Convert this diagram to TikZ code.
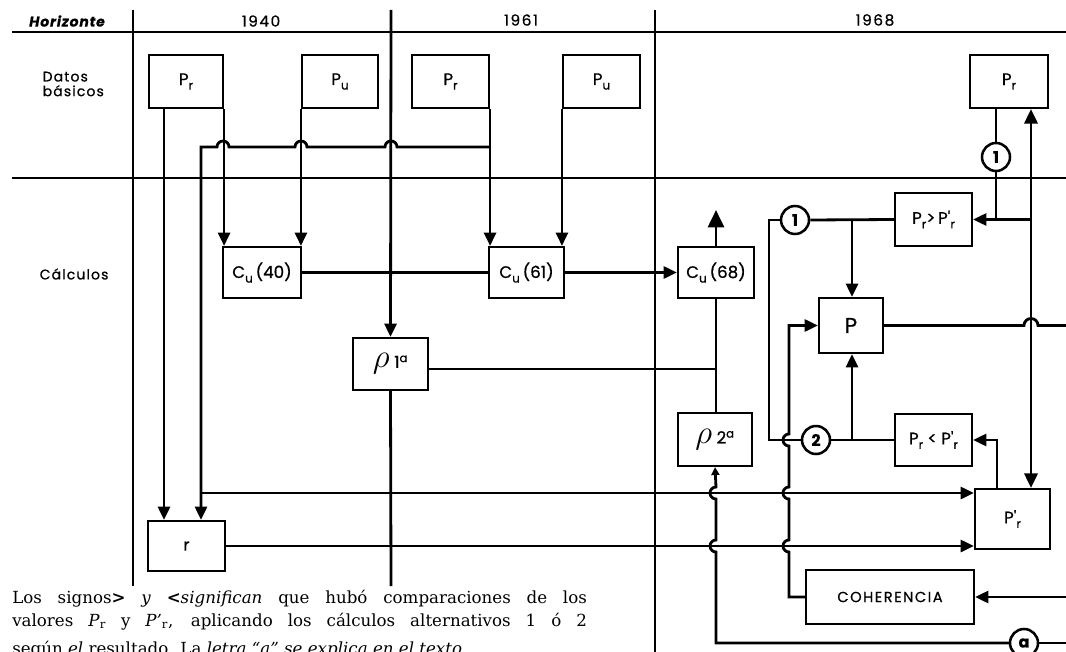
\documentclass[tikz,border=0pt]{standalone}
\usepackage{fontspec}
\setmainfont{DejaVu Serif}
\newfontfamily\dfont{Poppins}[FakeBold=0.6]
\usetikzlibrary{arrows.meta}
\newcommand\sbs[1]{\raisebox{-0.5ex}{\fontsize{9}{10}\selectfont #1}}
\newcommand\bxx[6]{%
  \pgfmathsetmacro\bcx{(#2+#4)/2}\pgfmathsetmacro\bcy{(#3+#5)/2}%
  \pgfmathsetmacro\bw{0.75*(#4-#2)}\pgfmathsetmacro\bh{0.75*(#5-#3)}%
  \node[bx,minimum width=\bw pt,minimum height=\bh pt] (#1) at (\bcx,\bcy) {#6};}
\begin{document}
\begin{tikzpicture}[x=0.75pt,y=-0.75pt,
  ln/.style={line width=2.1pt},
  arr/.style={ln,-{Triangle[length=10pt,width=9pt]}},
  barr/.style={ln,-{Triangle[length=13pt,width=12pt]}},
  sarr/.style={ln,-{Triangle[length=6pt,width=6pt]}},
  darr/.style={ln,{Triangle[length=11pt,width=10pt]}-{Triangle[length=11pt,width=10pt]}},
  bx/.style={draw,line width=1.6pt,inner sep=0pt,font=\dfont\fontsize{12.5}{14}\selectfont},
  cir/.style={draw,circle,line width=1.9pt,minimum size=21pt,inner sep=0pt,font=\dfont\bfseries\fontsize{12}{13}\selectfont},
  lbl/.style={font=\dfont\fontsize{10.5}{12}\selectfont},
  captxt/.style={anchor=base west,inner sep=0pt,font=\fontsize{12.5}{14}\selectfont},
]
\useasboundingbox (0,0) rectangle (1066,652);
\fill[white] (0,0) rectangle (1066,652);
\clip (0,0) rectangle (1066,652);

% ---- grid
\draw[ln] (12,32) -- (1066,32);
\draw[ln] (12,178) -- (1066,178);
\draw[ln] (133,10) -- (133,586);
\draw[ln] (655,10) -- (655,652);

% ---- headers
\node[lbl,font=\dfont\bfseries\itshape\fontsize{10.5}{12}\selectfont] (hz) at (67,21) {\addfontfeature{LetterSpace=6}Horizonte};
\node[lbl,font=\dfont\fontsize{11.5}{12}\selectfont] (y40) at (261,21) {\addfontfeature{LetterSpace=10}1940};
\node[lbl,font=\dfont\fontsize{11.5}{12}\selectfont] (y61) at (521,20) {\addfontfeature{LetterSpace=10}1961};
\node[lbl,font=\dfont\fontsize{11.5}{12}\selectfont] (y68) at (875,20) {\addfontfeature{LetterSpace=10}1968};
\node[lbl,anchor=west,align=left] (datos) at (38,84) {\addfontfeature{LetterSpace=8}Datos\\[-1pt]\addfontfeature{LetterSpace=8}básicos};
\node[lbl,anchor=west] (calc) at (35,274) {\addfontfeature{LetterSpace=8}Cálculos};

% ---- boxes
\bxx{pr40}{149}{55}{223}{108}{P\sbs{r}}
\bxx{pu40}{302}{55}{378}{108}{P\sbs{u}}
\bxx{pr61}{412}{55}{489}{108}{P\sbs{r}}
\bxx{pu61}{563}{55}{640}{108}{P\sbs{u}}
\bxx{pr68}{970}{55}{1048}{108}{P\sbs{r}}
\bxx{cu40}{223}{247}{301}{298}{C\sbs{u}\,(40)}
\bxx{cu61}{489}{247}{564}{298}{C\sbs{u}\,(61)}
\bxx{cu68}{678}{247}{754}{298}{C\sbs{u}\,(68)}
\bxx{rho1}{353}{338}{428}{390}{{\fontsize{24}{24}\selectfont$\rho$}\;1\textsuperscript{a}}
\bxx{rho2}{678}{413}{752}{466}{{\fontsize{24}{24}\selectfont$\rho$}\;2\textsuperscript{a}}
\bxx{pgt}{895}{193}{972}{246}{P\sbs{r}>\,P'\sbs{r}}
\bxx{P}{819}{298}{883}{353}{{\fontsize{16}{18}\selectfont P}}
\bxx{plt}{895}{414}{972}{466}{P\sbs{r} < P'\sbs{r}}
\bxx{ppr}{975}{489}{1050}{549}{P'\sbs{r}}
\bxx{r}{148}{521}{225}{571}{r}
\bxx{coh}{806}{570}{974}{624}{{\fontsize{11}{13}\selectfont\addfontfeature{LetterSpace=10}COHERENCIA}}

% ---- circles
\node[cir] (c1t) at (996,157) {1};
\node[cir] (c1) at (795,220) {1};
\node[cir] (c2) at (816,440) {2};
\node[cir] (ca) at (1024,643) {a};

% ---- coordinates
\coordinate (x164) at (164,0);
\coordinate (x201) at (201,0);
\coordinate (x789) at (789,0);
\coordinate (x997) at (997,0);
\coordinate (x1031) at (1031,0);
\coordinate (j61) at (489,147);
\coordinate (j492) at (201,493);
\coordinate (j370) at (716,369);
\coordinate (up68) at (716,210);
\coordinate (j852a) at (852,220);
\coordinate (j852b) at (852,440);
\coordinate (j996) at (996,220);
\coordinate (j1031) at (1031,220);
\coordinate (EP) at (1066,325.5);
\coordinate (Ec) at (1066,597);
\coordinate (Ea) at (1066,643);

% ---- grid line through rho1
\draw[arr] (391,10) -- (rho1.north);
\draw[ln] (rho1.south) -- (391,586);

% ---- datos -> calculos
\draw[arr] (pr40.south east) -- (pr40.south east |- cu40.north);
\draw[arr] (pu40.south west) -- (pu40.south west |- cu40.north);
\draw[arr] (pr61.south east) -- (pr61.south east |- cu61.north);
\draw[arr] (pu61.south west) -- (pu61.south west |- cu61.north);
\draw[arr] (pr40.south -| x164) -- (r.north -| x164);
\draw[arr] (j61) -- (397,147) arc[start angle=0,end angle=-180,radius=6]
  -- (307,147) arc[start angle=0,end angle=-180,radius=6]
  -- (229,147) arc[start angle=0,end angle=-180,radius=6]
  -- (201,147) -- (r.north -| x201);
\draw[arr] (j492) -- (ppr.west |- j492);
\draw[arr] (r.east) -- (ppr.west |- r.east);

% ---- Cu chain
\draw[ln] (cu40.east) -- (cu61.west);
\draw[arr] (cu61.east) -- (cu68.west);
\draw[barr] (cu68.north) -- (up68);
\draw[ln] (cu68.south) -- (cu68.south |- rho2.north);
\draw[ln] (rho1.east |- j370) -- (j370);

% ---- a -> rho2
\draw[ln] (Ea) -- (ca.east);
\draw[sarr] (ca.west) -- (716,643) -- (716,552) arc[start angle=90,end angle=270,radius=6]
  -- (716,499) arc[start angle=90,end angle=270,radius=6] -- (rho2.south);

% ---- 1968 logic
\draw[ln] (c1.west) -- (769,220) -- (769,440) -- (c2.west);
\draw[ln] (c1.east) -- (pgt.west);
\draw[arr] (j852a) -- (j852a |- P.north);
\draw[ln] (c2.east) -- (plt.west);
\draw[arr] (j852b) -- (j852b |- P.south);
\draw[arr] (coh.west) -- (789,597) -- (789,552) arc[start angle=90,end angle=270,radius=6]
  -- (789,499) arc[start angle=90,end angle=270,radius=6]
  -- (789,446) arc[start angle=90,end angle=270,radius=6]
  -- (P.west -| x789) -- (P.west);
\draw[ln] (c1t |- pr68.south) -- (c1t.north);
\draw[ln] (c1t.south) -- (j996);
\draw[arr] (pgt.east -| x1031) -- (pgt.east);
\draw[darr] (ppr.north -| x1031) -- (pr68.south -| x1031);
\draw[ln] (P.east) -- (1024,325.5) arc[start angle=180,end angle=360,radius=7] -- (EP);
\draw[arr] (ppr.north -| x997) -- (x997 |- plt.east) -- (plt.east);
\draw[arr] (Ec) -- (coh.east);

% ---- caption
\node[captxt] (cap1) at (12,603) {\makebox[431pt][s]{Los signos\textbf{>} \textit{y} \textbf{<}\textit{significan} que hubó comparaciones de los}};
\node[captxt] (cap2) at (12,626) {\makebox[431pt][s]{valores \textit{P}\textsubscript{r} y \textit{P'}\textsubscript{r}, aplicando los cálculos alternativos 1 ó 2}};
\node[captxt] (cap3) at (12,654) {según \textit{el} resultado. La \textit{letra “a” se explica en el texto.}};
\end{tikzpicture}
\end{document}
